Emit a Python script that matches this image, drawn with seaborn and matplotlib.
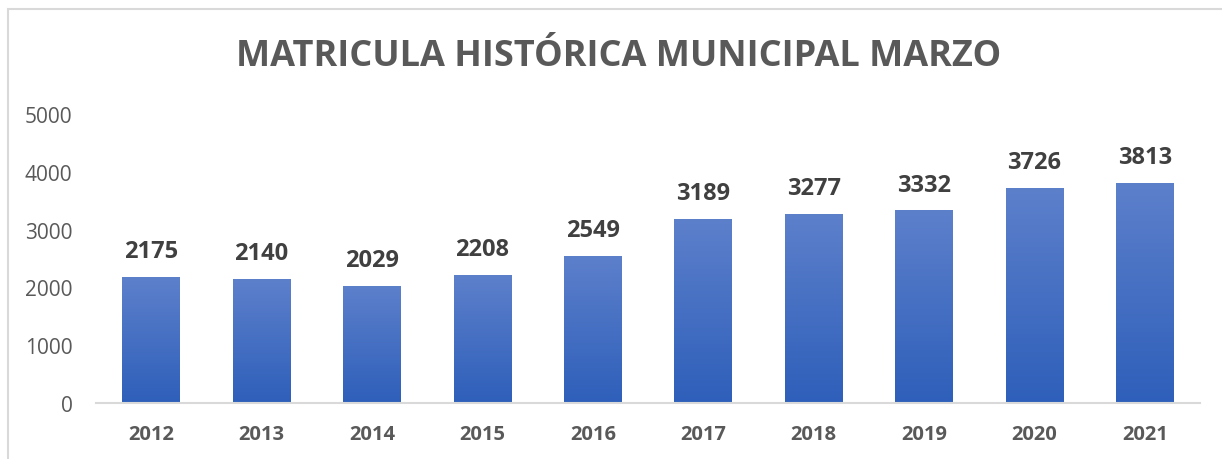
import numpy as np
import pandas as pd
import matplotlib
matplotlib.use("Agg")
import matplotlib.pyplot as plt
import matplotlib.patches as mpatches
from matplotlib.colors import LinearSegmentedColormap
import seaborn as sns

years = ["2012", "2013", "2014", "2015", "2016", "2017", "2018", "2019", "2020", "2021"]
enrollment = [2175, 2140, 2029, 2208, 2549, 3189, 3277, 3332, 3726, 3813]
y_ticks = [0, 1000, 2000, 3000, 4000, 5000]
title = "MATRICULA HISTÓRICA MUNICIPAL MARZO"

sns.set_theme(style="white")
plt.rcParams["font.family"] = ["Open Sans", "DejaVu Sans"]

df = pd.DataFrame({"year": years, "value": enrollment})

fig = plt.figure(figsize=(12.22, 4.6), dpi=100)
ax = fig.add_axes([96 / 1222, 56 / 460, 1104 / 1222, 289 / 460])

sns.barplot(data=df, x="year", y="value", color="#4472c4", width=0.52,
            saturation=1, ax=ax)

# gradient fill, light blue at the top to deeper blue at the base
grad = LinearSegmentedColormap.from_list("g", ["#2e5fba", "#5d80cb"])
img = np.linspace(0, 1, 256).reshape(-1, 1)
for p in ax.patches:
    x0, w, h = p.get_x(), p.get_width(), p.get_height()
    p.set_facecolor("none")
    im = ax.imshow(img, cmap=grad, origin="lower", aspect="auto",
                   extent=[x0, x0 + w, 0, h], zorder=p.get_zorder())
    im.set_clip_path(p)
    ax.annotate(f"{int(h)}", (x0 + w / 2, h), xytext=(0, 10),
                textcoords="offset points", ha="center", va="bottom",
                fontsize=17, fontweight="bold", color="#404040")

ax.set_xlim(-0.5, len(years) - 0.5)
ax.set_ylim(0, 5000)
ax.set_yticks(y_ticks)
ax.set_xlabel("")
ax.set_ylabel("")
ax.tick_params(axis="y", labelsize=15, colors="#595959", length=0, pad=17)
ax.tick_params(axis="x", labelsize=14.5, colors="#595959", length=0, pad=15)
for lab in ax.get_xticklabels():
    lab.set_fontweight("bold")
for s in ["top", "right", "left"]:
    ax.spines[s].set_visible(False)
ax.spines["bottom"].set_color("#d9d9d9")
ax.spines["bottom"].set_linewidth(1.5)

fig.text(0.506, 1 - 57 / 460, title, ha="center", va="center",
         fontsize=26, fontweight="bold", color="#595959")

# chart frame (only left and top edges visible in the crop)
fig.add_artist(mpatches.Rectangle((8 / 1222, -0.1), 1.2, 1 - 10 / 460 + 0.1,
                                  transform=fig.transFigure, fill=False,
                                  edgecolor="#d9d9d9", linewidth=1.5))

fig.savefig("out.png", dpi=100)
